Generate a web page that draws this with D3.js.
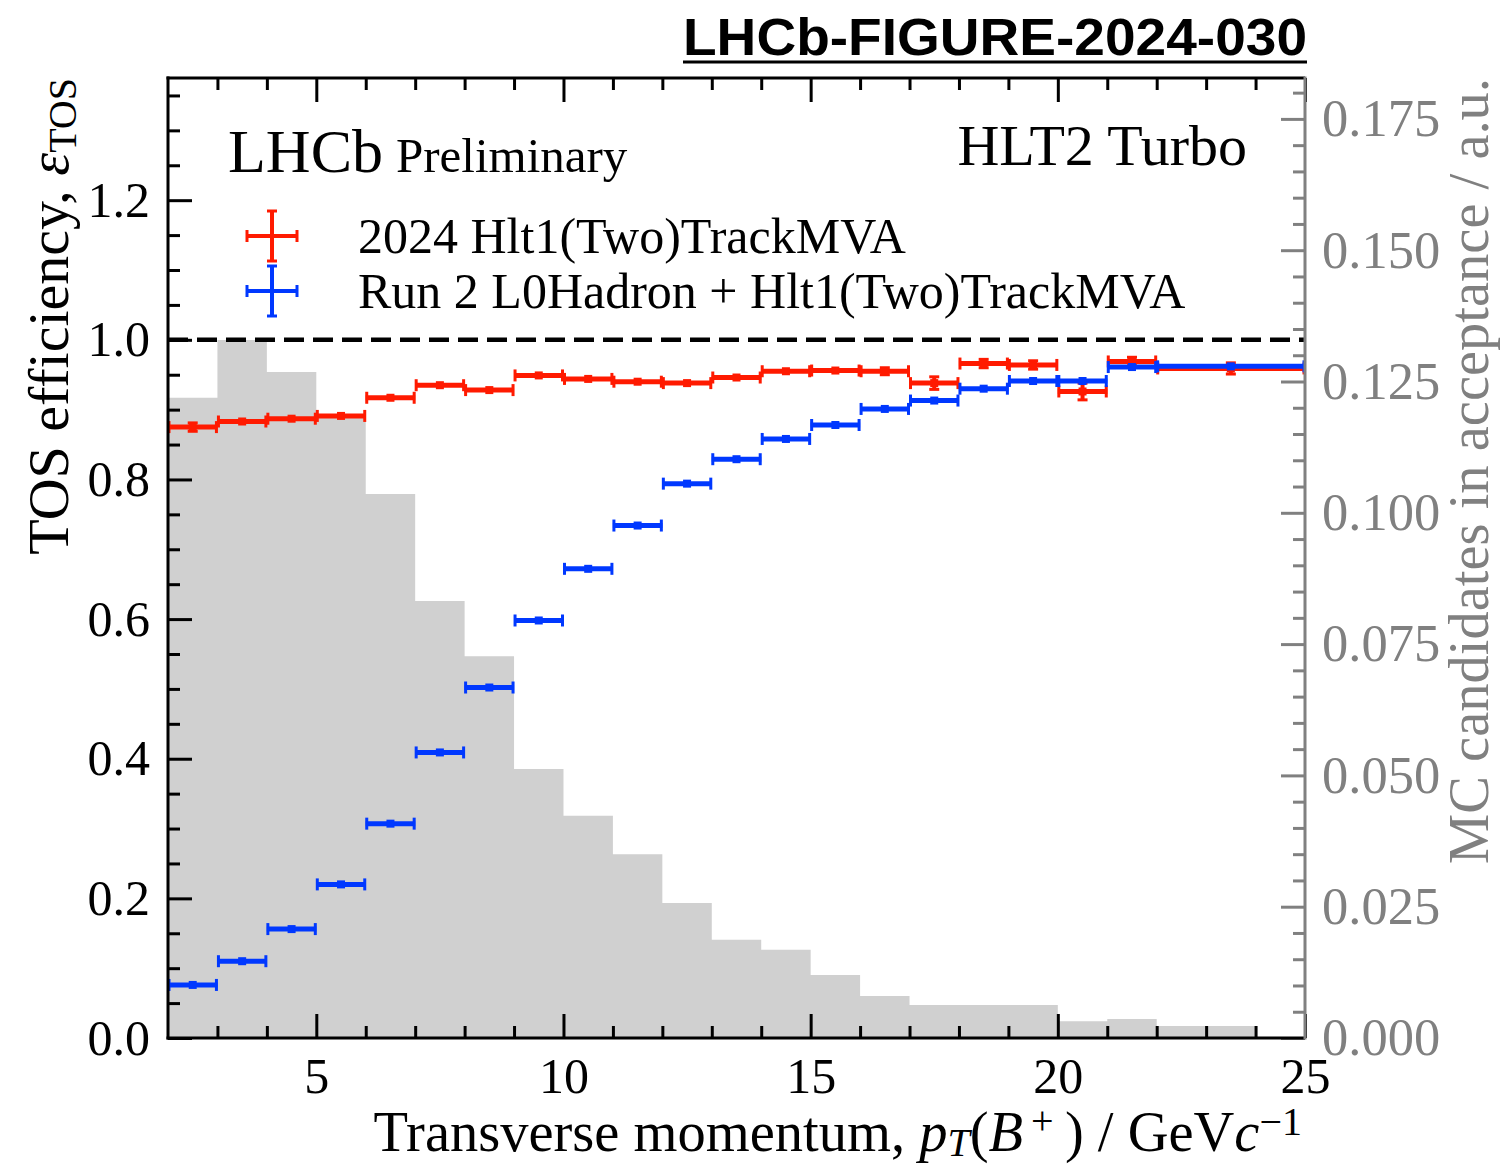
<!DOCTYPE html>
<html>
<head>
<meta charset="utf-8">
<script src="https://cdn.jsdelivr.net/npm/d3@7"></script>
<style>
  html, body { margin: 0; padding: 0; background: #fff; }
  svg { display: block; }
  text { font-family: "Liberation Serif", "Times New Roman", serif; }
</style>
</head>
<body>
<svg id="chart" width="1510" height="1164"></svg>
<script>
// ---------------- data ----------------
const effBinLo = [2, 3, 4, 5, 6, 7, 8, 9, 10, 11, 12, 13, 14, 15, 16, 17, 18, 19, 20, 21, 22];
const effBinHi = [3, 4, 5, 6, 7, 8, 9, 10, 11, 12, 13, 14, 15, 16, 17, 18, 19, 20, 21, 22, 25];
const red2024Eff = [0.875, 0.883, 0.887, 0.891, 0.917, 0.935, 0.928, 0.949, 0.944, 0.940, 0.938, 0.946,
                    0.955, 0.956, 0.955, 0.938, 0.966, 0.964, 0.926, 0.969, 0.959];
const red2024Err = [0.006, 0.004, 0.003, 0.003, 0.003, 0.003, 0.003, 0.003, 0.003, 0.003, 0.003, 0.004,
                    0.004, 0.004, 0.005, 0.009, 0.006, 0.006, 0.012, 0.006, 0.008];
const blueRun2Eff = [0.076, 0.110, 0.156, 0.220, 0.307, 0.409, 0.502, 0.598, 0.672, 0.734, 0.794, 0.829,
                     0.858, 0.878, 0.901, 0.913, 0.930, 0.941, 0.941, 0.961, 0.962];
const blueRun2Err = [0.002, 0.002, 0.002, 0.002, 0.002, 0.002, 0.002, 0.002, 0.002, 0.002, 0.002, 0.002,
                     0.002, 0.002, 0.002, 0.002, 0.002, 0.002, 0.002, 0.002, 0.002];

const histLo = [2, 3, 4, 5, 6, 7, 8, 9, 10, 11, 12, 13, 14, 15, 16, 17, 18, 19, 20, 21, 22, 23, 24];
const histVals = [0.1219, 0.1329, 0.1268, 0.1186, 0.1036, 0.0832, 0.0727, 0.0512, 0.0423, 0.0350, 0.0257,
                  0.0187, 0.0168, 0.0120, 0.0080, 0.0063, 0.0063, 0.0063, 0.0032, 0.0036, 0.0023, 0.0023, 0.0];

const xMajorTicks = [5, 10, 15, 20, 25];
const yLeftMajorTicks = [0.0, 0.2, 0.4, 0.6, 0.8, 1.0, 1.2];
const yRightMajorTicks = [0.000, 0.025, 0.050, 0.075, 0.100, 0.125, 0.150, 0.175];

const legendLabels = ["2024 Hlt1(Two)TrackMVA", "Run 2 L0Hadron + Hlt1(Two)TrackMVA"];
const RED = "#ff1a00", BLUE = "#0038ff", GREY_AX = "#808080", HIST = "#d0d0d0";

// ---------------- layout ----------------
const L = 168, R = 1305, T = 78, B = 1038;
const svg = d3.select("#chart");

const x = d3.scaleLinear().domain([2, 25]).range([L, R]);
const y = d3.scaleLinear().domain([0, 1.375]).range([B, T]);
const yR = d3.scaleLinear().domain([0, 0.025 * 960 / 131.3]).range([B, T]);

// ---------------- histogram (single step path) ----------------
const histPts = histLo.map((lo, i) => ({ x: lo, v: histVals[i] }));
histPts.push({ x: 25, v: histVals[histVals.length - 1] });
svg.append("path")
  .datum(histPts)
  .attr("fill", HIST)
  .attr("d", d3.area().curve(d3.curveStepAfter).x((d) => x(d.x)).y0(B).y1((d) => yR(d.v)));

// dashed line at 1.0
svg.append("line")
  .attr("x1", x(2)).attr("x2", x(25)).attr("y1", y(1)).attr("y2", y(1))
  .attr("stroke", "#000").attr("stroke-width", 4.5).attr("stroke-dasharray", "20,9");

// ---------------- error bar series ----------------
function drawSeries(vals, errs, color) {
  const g = svg.append("g");
  const CAP = 6;
  vals.forEach((v, i) => {
    const x0 = x(effBinLo[i]), x1 = x(effBinHi[i]), xc = x((effBinLo[i] + effBinHi[i]) / 2);
    const yc = y(v), yt = y(v + errs[i]), yb = y(v - errs[i]);
    g.append("line").attr("x1", x0).attr("x2", x1).attr("y1", yc).attr("y2", yc)
      .attr("stroke", color).attr("stroke-width", 5);
    g.append("line").attr("x1", x0 + 1).attr("x2", x0 + 1).attr("y1", yc - CAP).attr("y2", yc + CAP)
      .attr("stroke", color).attr("stroke-width", 3);
    g.append("line").attr("x1", x1 - 1).attr("x2", x1 - 1).attr("y1", yc - CAP).attr("y2", yc + CAP)
      .attr("stroke", color).attr("stroke-width", 3);
    g.append("line").attr("x1", xc).attr("x2", xc).attr("y1", yt).attr("y2", yb)
      .attr("stroke", color).attr("stroke-width", 4);
    if (yb - yt > 6) {
      g.append("line").attr("x1", xc - 5).attr("x2", xc + 5).attr("y1", yt).attr("y2", yt)
        .attr("stroke", color).attr("stroke-width", 3);
      g.append("line").attr("x1", xc - 5).attr("x2", xc + 5).attr("y1", yb).attr("y2", yb)
        .attr("stroke", color).attr("stroke-width", 3);
    }
    g.append("rect").attr("x", xc - 4).attr("y", yc - 4).attr("width", 8).attr("height", 8).attr("fill", color);
  });
}
drawSeries(red2024Eff, red2024Err, RED);
drawSeries(blueRun2Eff, blueRun2Err, BLUE);

// ---------------- axes ----------------
function styleAxis(g, color, fs) {
  g.select(".domain").remove();
  g.selectAll(".tick line").attr("stroke", color).attr("stroke-width", 3);
  g.selectAll(".tick text").attr("fill", color).attr("font-family", '"Liberation Serif", serif').attr("font-size", fs || 50);
}
const xMinor = d3.range(3, 25).filter((v) => v % 5 !== 0);
const yMinor = d3.range(0, 28).map((i) => i * 0.05).filter((v, i) => i % 4 !== 0 && v <= 1.375);
const yRMinor = d3.range(0, 37).map((i) => i * 0.005).filter((v, i) => i % 5 !== 0 && v <= 0.1828);

// bottom
svg.append("g").attr("transform", `translate(0,${B})`)
  .call(d3.axisBottom(x).tickValues(xMajorTicks).tickFormat(d3.format("d")).tickSizeInner(-24).tickSizeOuter(0).tickPadding(19))
  .call((g) => styleAxis(g, "#000"));
svg.append("g").attr("transform", `translate(0,${B})`)
  .call(d3.axisBottom(x).tickValues(xMinor).tickFormat("").tickSizeInner(-12).tickSizeOuter(0))
  .call((g) => styleAxis(g, "#000"));
// top
svg.append("g").attr("transform", `translate(0,${T})`)
  .call(d3.axisTop(x).tickValues(xMajorTicks).tickFormat("").tickSizeInner(-24).tickSizeOuter(0))
  .call((g) => styleAxis(g, "#000"));
svg.append("g").attr("transform", `translate(0,${T})`)
  .call(d3.axisTop(x).tickValues(xMinor).tickFormat("").tickSizeInner(-12).tickSizeOuter(0))
  .call((g) => styleAxis(g, "#000"));
// left
svg.append("g").attr("transform", `translate(${L},0)`)
  .call(d3.axisLeft(y).tickValues(yLeftMajorTicks).tickFormat(d3.format(".1f")).tickSizeInner(-24).tickSizeOuter(0).tickPadding(18))
  .call((g) => styleAxis(g, "#000"));
svg.append("g").attr("transform", `translate(${L},0)`)
  .call(d3.axisLeft(y).tickValues(yMinor).tickFormat("").tickSizeInner(-12).tickSizeOuter(0))
  .call((g) => styleAxis(g, "#000"));
// right
svg.append("g").attr("transform", `translate(${R},0)`)
  .call(d3.axisRight(yR).tickValues(yRightMajorTicks).tickFormat(d3.format(".3f")).tickSizeInner(-24).tickSizeOuter(0).tickPadding(17))
  .call((g) => styleAxis(g, GREY_AX, 52.5));
svg.append("g").attr("transform", `translate(${R},0)`)
  .call(d3.axisRight(yR).tickValues(yRMinor).tickFormat("").tickSizeInner(-12).tickSizeOuter(0))
  .call((g) => styleAxis(g, GREY_AX));

// frame lines
svg.append("line").attr("x1", L - 1.5).attr("x2", R).attr("y1", T).attr("y2", T).attr("stroke", "#000").attr("stroke-width", 3);
svg.append("line").attr("x1", L - 1.5).attr("x2", R).attr("y1", B).attr("y2", B).attr("stroke", "#000").attr("stroke-width", 3);
svg.append("line").attr("x1", L).attr("x2", L).attr("y1", T - 1.5).attr("y2", B + 1.5).attr("stroke", "#000").attr("stroke-width", 3);
svg.append("line").attr("x1", R).attr("x2", R).attr("y1", T - 1.5).attr("y2", B + 1.5).attr("stroke", GREY_AX).attr("stroke-width", 3);

// ---------------- texts ----------------
// title
svg.append("text").attr("x", 1307).attr("y", 55).attr("text-anchor", "end")
  .attr("font-weight", "bold")
  .attr("font-size", 51).attr("textLength", 624).attr("lengthAdjust", "spacingAndGlyphs")
  .style("font-family", '"Liberation Sans", Arial, sans-serif')
  .text("LHCb-FIGURE-2024-030");
svg.append("line").attr("x1", 683).attr("x2", 1307).attr("y1", 62).attr("y2", 62).attr("stroke", "#000").attr("stroke-width", 3);

svg.append("text").attr("x", 228).attr("y", 172).attr("font-size", 62).text("LHCb");
svg.append("text").attr("x", 396).attr("y", 172).attr("font-size", 49).text("Preliminary");
svg.append("text").attr("x", 1247).attr("y", 165).attr("font-size", 58).attr("text-anchor", "end").text("HLT2 Turbo");

// legend
const legY = [236, 291];
const legColors = [RED, BLUE];
legendLabels.forEach((lab, i) => {
  const g = svg.append("g");
  const cx = 272, cy = legY[i];
  g.append("line").attr("x1", 246).attr("x2", 298).attr("y1", cy).attr("y2", cy).attr("stroke", legColors[i]).attr("stroke-width", 4);
  g.append("line").attr("x1", cx).attr("x2", cx).attr("y1", cy - 25).attr("y2", cy + 25).attr("stroke", legColors[i]).attr("stroke-width", 4);
  [[247, 247, cy - 6, cy + 6], [297, 297, cy - 6, cy + 6], [cx - 5, cx + 5, cy - 25, cy - 25], [cx - 5, cx + 5, cy + 25, cy + 25]]
    .forEach((c) => g.append("line").attr("x1", c[0]).attr("x2", c[1]).attr("y1", c[2]).attr("y2", c[3])
      .attr("stroke", legColors[i]).attr("stroke-width", 3));
  g.append("text").attr("x", 358).attr("y", cy + 17).attr("font-size", 50).text(lab);
});

// x label
const xl = svg.append("text").attr("x", 1302).attr("y", 1151).attr("text-anchor", "end").attr("font-size", 56.5);
xl.append("tspan").text("Transverse momentum, ");
xl.append("tspan").attr("font-style", "italic").text("p");
xl.append("tspan").attr("font-style", "italic").attr("font-size", 40).attr("dy", 5).text("T");
xl.append("tspan").attr("dy", -5).text("(");
xl.append("tspan").attr("font-style", "italic").text("B");
xl.append("tspan").attr("font-size", 40).attr("dy", -17).text("\u2009+");
xl.append("tspan").attr("dy", 17).text("\u2009) / GeV");
xl.append("tspan").attr("font-style", "italic").text("c");
xl.append("tspan").attr("font-size", 40).attr("dy", -16).text("\u22121");

// left y label
const yl = svg.append("text").attr("transform", "translate(68,78) rotate(-90)").attr("text-anchor", "end").attr("font-size", 58);
yl.append("tspan").text("TOS efficiency, ");
yl.append("tspan").attr("font-style", "italic").text("\u03B5");
yl.append("tspan").attr("font-size", 40).attr("dy", 8).text("TOS");

// right y label
svg.append("text").attr("transform", "translate(1488,78) rotate(-90)").attr("text-anchor", "end")
  .attr("font-size", 56.5).attr("fill", GREY_AX).text("MC candidates in acceptance / a.u.");
</script>
</body>
</html>
